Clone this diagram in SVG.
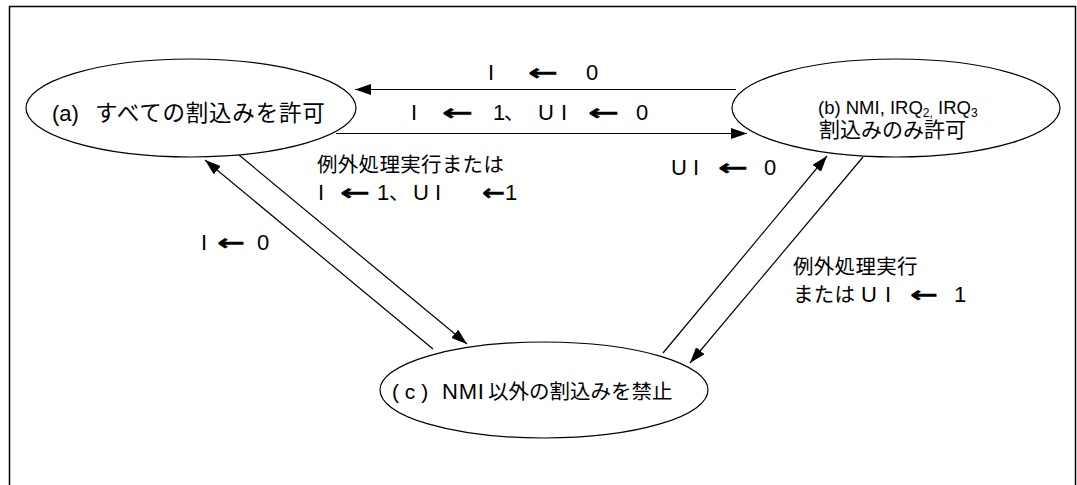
<svg xmlns="http://www.w3.org/2000/svg" width="1077" height="485" viewBox="0 0 1077 485">
<defs>
<marker id="ah" viewBox="0 0 16 11" refX="16" refY="5.5" markerWidth="16" markerHeight="11" markerUnits="userSpaceOnUse" orient="auto">
<path d="M0,0 L16,5.5 L0,11 Z" fill="#000"/>
</marker>
<style>
.t{font-family:"Liberation Sans","Noto Sans CJK JP",sans-serif;font-size:22px;fill:#000}
.j{font-family:"Noto Sans CJK JP",sans-serif;font-size:20.5px;fill:#000;letter-spacing:0.3px}
.a{font-family:"DejaVu Sans",sans-serif;font-weight:bold;font-size:22px;fill:#000;stroke:#000;stroke-width:0.4}
.node{fill:#fff;stroke:#000;stroke-width:1.2}
.c{stroke:#000;stroke-width:1.2;fill:none}
.arr{marker-end:url(#ah)}
</style>
</defs>
<rect width="1077" height="485" fill="#fff"/>
<path d="M9.5,490 V6.5 H1075.5 V490" fill="none" stroke="#000" stroke-width="1.5"/>

<g id="connectors">
<line class="c arr" x1="736" y1="89.5" x2="355" y2="89.5"/>
<line class="c arr" x1="336" y1="133.5" x2="747" y2="133.5"/>
<line class="c arr" x1="239" y1="155" x2="467" y2="344"/>
<line class="c arr" x1="433" y1="349" x2="205" y2="160"/>
<line class="c arr" x1="663" y1="353" x2="827" y2="156"/>
<line class="c arr" x1="863" y1="157" x2="690" y2="363"/>
</g>

<g id="node-a">
<ellipse class="node" cx="191" cy="108" rx="165" ry="49"/>
<text class="t" x="52" y="121">(a)<tspan x="95" style="font-size:22.5px;letter-spacing:0.8px">すべての割込みを許可</tspan></text>
</g>

<g id="node-b">
<ellipse class="node" cx="896" cy="108" rx="164" ry="49"/>
<text class="t" x="818" y="114" style="font-size:18.5px">(b) NMI, IRQ<tspan style="font-size:12px" dy="3">2,</tspan><tspan dy="-3"> IRQ</tspan><tspan style="font-size:12px" dy="3">3</tspan></text>
<text class="t" x="819" y="137" style="font-size:21px">割込みのみ許可</text>
</g>

<g id="node-c">
<ellipse class="node" cx="544" cy="390" rx="164" ry="48"/>
<text class="t" x="392" y="399" style="font-size:21px">( c )<tspan x="442" style="font-size:22px;letter-spacing:0.8px">NMI</tspan><tspan x="488" style="font-size:20.5px">以外の割込みを禁止</tspan></text>
</g>

<g id="labels">
<text class="t" x="488" y="80">I</text>
<text class="a" x="528" y="80" textLength="30" lengthAdjust="spacingAndGlyphs">←</text>
<text class="t" x="586" y="80">0</text>

<text class="t" x="411" y="120">I</text>
<text class="a" x="442" y="120" textLength="31" lengthAdjust="spacingAndGlyphs">←</text>
<text class="t" x="493" y="120">1</text>
<text class="j" x="504" y="120">、</text>
<text class="t" x="538" y="120">U</text>
<text class="t" x="561" y="120">I</text>
<text class="a" x="588" y="120" textLength="31" lengthAdjust="spacingAndGlyphs">←</text>
<text class="t" x="636" y="120">0</text>

<text class="j" x="317" y="172">例外処理実行または</text>
<text class="t" x="318" y="200">I</text>
<text class="a" x="340" y="200" textLength="30" lengthAdjust="spacingAndGlyphs">←</text>
<text class="t" x="377" y="200">1</text>
<text class="j" x="389" y="200">、</text>
<text class="t" x="413" y="200">U</text>
<text class="t" x="435" y="200">I</text>
<text class="a" x="482" y="200" textLength="23" lengthAdjust="spacingAndGlyphs">←</text>
<text class="t" x="505" y="200">1</text>

<text class="t" x="201" y="250">I</text>
<text class="a" x="217" y="250" textLength="28" lengthAdjust="spacingAndGlyphs">←</text>
<text class="t" x="257" y="250">0</text>

<text class="t" x="671" y="175">U</text>
<text class="t" x="693" y="175">I</text>
<text class="a" x="718" y="175" textLength="30" lengthAdjust="spacingAndGlyphs">←</text>
<text class="t" x="764" y="175">0</text>

<text class="j" x="793" y="274">例外処理実行</text>
<text class="j" x="793" y="302">または</text>
<text class="t" x="861" y="302">U</text>
<text class="t" x="885" y="302">I</text>
<text class="a" x="910" y="302" textLength="28" lengthAdjust="spacingAndGlyphs">←</text>
<text class="t" x="954" y="302">1</text>
</g>
</svg>
